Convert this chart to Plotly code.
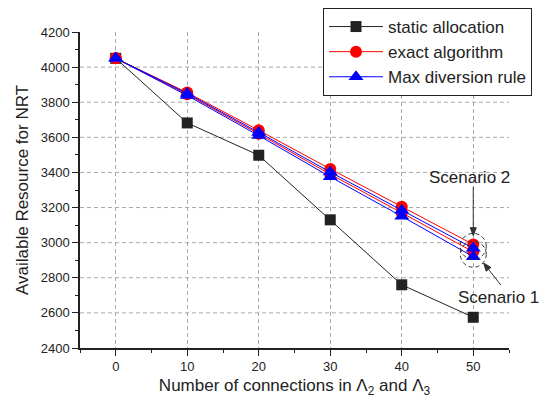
import plotly.graph_objects as go

connections = [0, 10, 20, 30, 40, 50]
static_alloc = [4050, 3682, 3498, 3130, 2760, 2575]
exact_s2 = [4050, 3855, 3640, 3420, 3205, 2990]
exact_s1 = [4050, 3845, 3620, 3390, 3170, 2948]
maxdiv_s2 = [4050, 3850, 3628, 3402, 3185, 2968]
maxdiv_s1 = [4050, 3838, 3610, 3375, 3150, 2920]
y_grid = [2600, 2800, 3000, 3200, 3400, 3600, 3800, 4000]

FONT = "Liberation Sans, Arial, Helvetica, sans-serif"
X_RANGE = [-5, 55]
Y_RANGE = [2400, 4200]
PLOT_W, PLOT_H = 429, 316
SX = PLOT_W / (X_RANGE[1] - X_RANGE[0])   # px per x unit
SY = PLOT_H / (Y_RANGE[1] - Y_RANGE[0])   # px per y unit
GRID_DASH = "4px,3px"
GRID = dict(color="#a8a8a8", width=1, dash=GRID_DASH)

fig = go.Figure()

# horizontal grid (no line at the top edge, as in the reference)
for gy in y_grid:
    fig.add_shape(type="line", xref="paper", yref="y", x0=0, x1=1, y0=gy, y1=gy,
                  line=GRID, layer="below")

fig.add_trace(go.Scatter(x=connections, y=static_alloc, mode="lines+markers",
    name="static allocation", line=dict(color="#222222", width=1),
    marker=dict(symbol="square", size=11, color="#222222")))
fig.add_trace(go.Scatter(x=connections, y=exact_s2, mode="lines+markers",
    name="exact algorithm", legendgroup="exact", line=dict(color="#ff0000", width=1),
    marker=dict(symbol="circle", size=12, color="#ff0000")))
fig.add_trace(go.Scatter(x=connections, y=exact_s1, mode="lines+markers",
    name="exact algorithm", legendgroup="exact", showlegend=False,
    line=dict(color="#ff0000", width=1),
    marker=dict(symbol="circle", size=12, color="#ff0000")))
fig.add_trace(go.Scatter(x=connections, y=maxdiv_s2, mode="lines+markers",
    name="Max diversion rule", legendgroup="maxdiv", line=dict(color="#0000ff", width=1),
    marker=dict(symbol="triangle-up", size=13, color="#0000ff")))
fig.add_trace(go.Scatter(x=connections, y=maxdiv_s1, mode="lines+markers",
    name="Max diversion rule", legendgroup="maxdiv", showlegend=False,
    line=dict(color="#0000ff", width=1),
    marker=dict(symbol="triangle-up", size=13, color="#0000ff")))

# dashed circles around scenario clusters
R_PX = 13
for cy in [(exact_s2[-1] + maxdiv_s2[-1]) / 2, (exact_s1[-1] + maxdiv_s1[-1]) / 2]:
    fig.add_shape(type="circle", xref="x", yref="y",
                  x0=50 - R_PX / SX, x1=50 + R_PX / SX,
                  y0=cy - R_PX / SY, y1=cy + R_PX / SY,
                  line=dict(color="#333333", width=1, dash="4px,3px"))


def arrow(tail, tip, head_len=8, head_half=3):
    """tail/tip in data coords; draws line + filled head sized in pixels."""
    dx = (tip[0] - tail[0]) * SX
    dy = (tip[1] - tail[1]) * SY
    L = (dx ** 2 + dy ** 2) ** 0.5
    ux, uy = dx / L, dy / L
    bx, by = -ux * head_len, -uy * head_len
    px, py = -uy * head_half, ux * head_half
    p1 = (tip[0] + (bx + px) / SX, tip[1] + (by + py) / SY)
    p2 = (tip[0] + (bx - px) / SX, tip[1] + (by - py) / SY)
    base = (tip[0] + bx / SX, tip[1] + by / SY)
    fig.add_shape(type="line", xref="x", yref="y", x0=tail[0], y0=tail[1],
                  x1=base[0], y1=base[1], line=dict(color="#333333", width=1))
    fig.add_shape(type="path", xref="x", yref="y",
                  path=f"M {tip[0]},{tip[1]} L {p1[0]},{p1[1]} L {p2[0]},{p2[1]} Z",
                  fillcolor="#333333", line=dict(color="#333333", width=1))


arrow((50, 3317), (50, 3040))
arrow((53.85, 2759), (51.45, 2884))

fig.add_annotation(x=49.5, y=3374, xref="x", yref="y", text="Scenario 2", showarrow=False,
                   font=dict(size=17, color="#222222", family=FONT))
fig.add_annotation(x=53.6, y=2685, xref="x", yref="y", text="Scenario 1", showarrow=False,
                   font=dict(size=17, color="#222222", family=FONT))

# page body has an 8px margin: shift figure so plot area lands at x 80-509, y 32-348
fig.update_layout(
    width=551, height=402,
    margin=dict(l=72, r=50, t=24, b=62, autoexpand=False),
    paper_bgcolor="white", plot_bgcolor="white",
    font=dict(family=FONT, size=13, color="#222222"),
    legend=dict(x=(315 - 72) / PLOT_W, y=1 + 24 / PLOT_H, xanchor="left", yanchor="top",
                bgcolor="white", bordercolor="#222222", borderwidth=1,
                font=dict(size=17, family=FONT), tracegroupgap=0,
                itemwidth=54),
    xaxis=dict(range=X_RANGE, tickmode="linear", tick0=0, dtick=10,
               showline=True, linecolor="#222222", linewidth=1.5,
               ticks="outside", ticklen=6, tickcolor="#222222",
               showgrid=True, gridcolor="#a8a8a8", griddash=GRID_DASH, gridwidth=1,
               zeroline=False, automargin=False,
               minor=dict(tick0=0, dtick=5, ticks="outside", ticklen=3, tickcolor="#222222", showgrid=False),
               title=dict(text="Number of connections in Λ<sub>2</sub> and Λ<sub>3</sub>",
                          font=dict(size=17, family=FONT), standoff=6)),
    yaxis=dict(range=Y_RANGE, tickmode="linear", tick0=2400, dtick=200,
               showline=True, linecolor="#222222", linewidth=1.5,
               ticks="outside", ticklen=6, tickcolor="#222222",
               showgrid=False,
               zeroline=False, automargin=False,
               minor=dict(dtick=100, ticks="outside", ticklen=3, tickcolor="#222222", showgrid=False),
               title=dict(text="Available Resource for NRT",
                          font=dict(size=17, family=FONT), standoff=8)),
)

fig.write_html("out.html")
